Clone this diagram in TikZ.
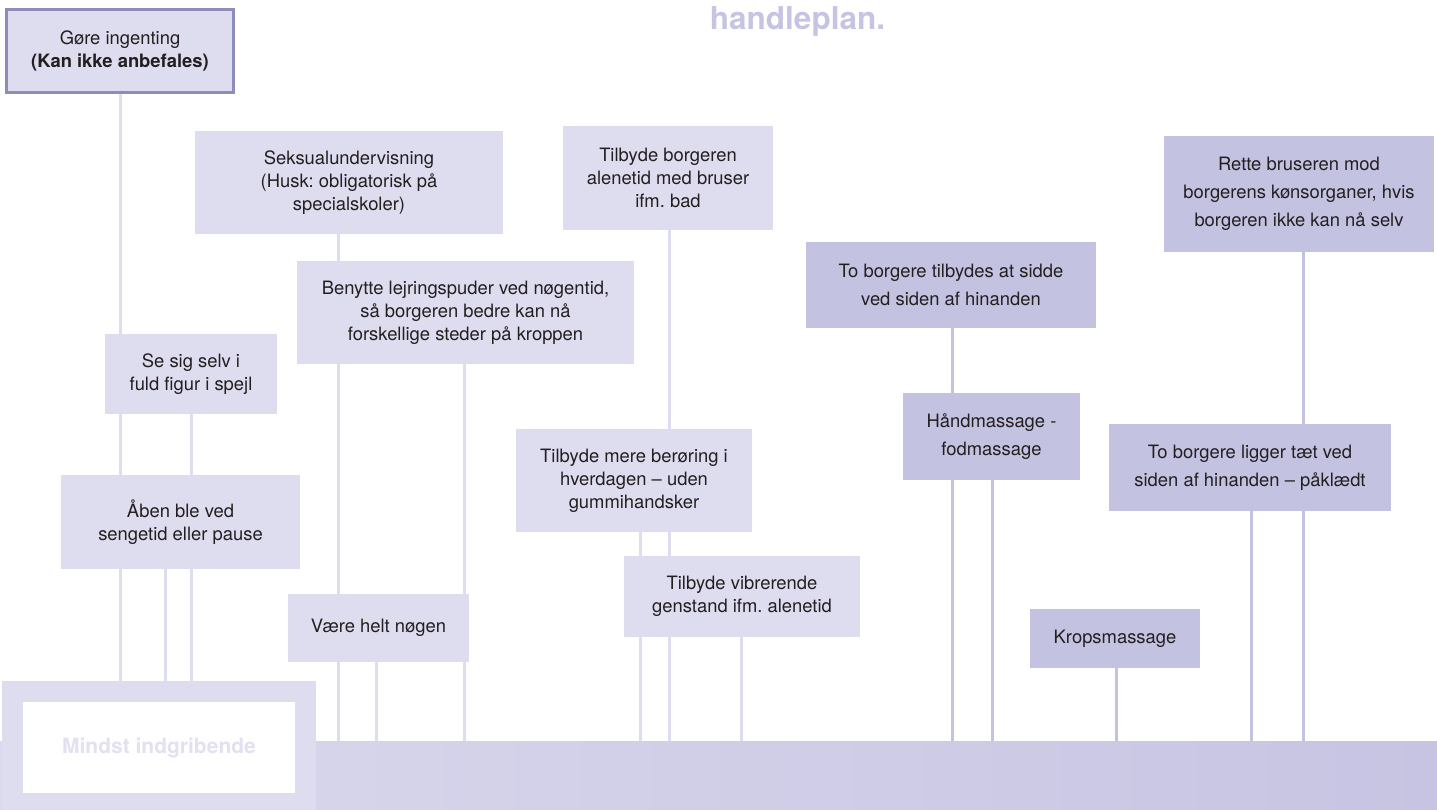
\documentclass[tikz,border=0pt]{standalone}
\usepackage{fontspec}
\setmainfont{TeX Gyre Heros}
\frenchspacing
\usetikzlibrary{backgrounds}

\definecolor{lys}{HTML}{DEDCEF}
\definecolor{mork}{HTML}{C4C2E1}
\definecolor{kant}{HTML}{8E8CB9}
\definecolor{tekst}{HTML}{231F20}
\definecolor{titel}{HTML}{C6C4E2}
\definecolor{bleg}{HTML}{E2E0F1}
\definecolor{barv}{HTML}{DBD9ED}
\definecolor{barh}{HTML}{C6C4E2}

\tikzset{
	tiltag/.style={rectangle, fill=lys, text=tekst, align=center, inner sep=0pt, outer sep=0pt,
		font=\fontsize{18.4}{22.8}\selectfont},
	tiltagm/.style={tiltag, fill=mork, font=\fontsize{18.4}{28}\selectfont},
	forb/.style={draw=lys, line width=3pt},
	forbm/.style={draw=mork, line width=3pt}
}

\begin{document}
\begin{tikzpicture}[x=1pt, y=-1pt]
		\useasboundingbox (0,0) rectangle (1437,809);
		\node[anchor=base, text=titel, font=\fontsize{31.5}{36}\selectfont\bfseries] (titel) at (797.5,29) {handleplan.};

		\node[tiltag, draw=kant, line width=3pt, minimum width=227pt, minimum height=83pt] (goere) at (120,51)
			{Gøre ingenting\\\textbf{(Kan ikke anbefales)}};
		\node[tiltag, minimum width=308pt, minimum height=103pt] (seks) at (349,182.5)
			{Seksualundervisning\\(Husk: obligatorisk på\\specialskoler)};
		\node[tiltag, minimum width=210pt, minimum height=104pt] (alene) at (668,178)
			{Tilbyde borgeren\\alenetid med bruser\\ifm. bad};
		\node[tiltagm, minimum width=270pt, minimum height=116pt] (rette) at (1299,194)
			{Rette bruseren mod\\borgerens kønsorganer, hvis\\borgeren ikke kan nå selv};
		\node[tiltagm, minimum width=290pt, minimum height=86pt] (sidde) at (951,285)
			{To borgere tilbydes at sidde\\ved siden af hinanden};
		\node[tiltag, minimum width=337pt, minimum height=103pt] (lejring) at (465.5,312.5)
			{Benytte lejringspuder ved nøgentid,\\så borgeren bedre kan nå\\forskellige steder på kroppen};
		\node[tiltag, minimum width=172pt, minimum height=80pt] (spejl) at (191,374)
			{Se sig selv i\\fuld figur i spejl};
		\node[tiltagm, minimum width=177pt, minimum height=87pt] (haand) at (991.5,436.5)
			{Håndmassage -\\fodmassage};
		\node[tiltagm, minimum width=282pt, minimum height=87pt] (ligger) at (1250,467.5)
			{To borgere ligger tæt ved\\siden af hinanden – påklædt};
		\node[tiltag, minimum width=236pt, minimum height=103pt] (beroering) at (634,480.5)
			{Tilbyde mere berøring i\\hverdagen – uden\\gummihandsker};
		\node[tiltag, minimum width=239pt, minimum height=94pt] (ble) at (180.5,522)
			{Åben ble ved\\sengetid eller pause};
		\node[tiltag, minimum width=236pt, minimum height=81pt] (vibr) at (742,596.5)
			{Tilbyde vibrerende\\genstand ifm. alenetid};
		\node[tiltag, minimum width=181pt, minimum height=68pt] (noegen) at (378.5,628)
			{Være helt nøgen};
		\node[tiltagm, minimum width=170pt, minimum height=59pt] (krop) at (1115,638.5)
			{Kropsmassage};

		\node[rectangle, inner sep=0pt, outer sep=0pt, minimum width=1437pt, minimum height=68pt,
			left color=barv, right color=barh] (bund) at (718.5,775) {};
		\node[rectangle, fill=white, draw=lys, line width=21pt, outer sep=0pt, inner sep=0pt,
			minimum width=293pt, minimum height=112pt, text=bleg,
			font=\fontsize{21}{25}\selectfont\bfseries] (mindst) at (159,747.5) {Mindst indgribende};

		\begin{scope}[on background layer]
			\draw[forb] (goere.south) -- (goere.south |- mindst.north);
			\draw[forb] (spejl.south) -- (spejl.south |- mindst.north);
			\draw[forb] ([xshift=-15.5pt]ble.south) -- ([xshift=-15.5pt]ble.south |- mindst.north);
			\draw[forb] ([xshift=-11pt]seks.south) -- ([xshift=-11pt]seks.south |- bund.north);
			\draw[forb] ([xshift=-2.5pt]noegen.south) -- ([xshift=-2.5pt]noegen.south |- bund.north);
			\draw[forb] ([xshift=-1.5pt]lejring.south) -- ([xshift=-1.5pt]lejring.south |- bund.north);
			\draw[forb] ([xshift=1pt]alene.south) -- ([xshift=1pt]alene.south |- bund.north);
			\draw[forb] ([xshift=6pt]beroering.south) -- ([xshift=6pt]beroering.south |- bund.north);
			\draw[forb] ([xshift=-1pt]vibr.south) -- ([xshift=-1pt]vibr.south |- bund.north);
			\draw[forbm] ([xshift=1pt]sidde.south) -- ([xshift=1pt]sidde.south |- bund.north);
			\draw[forbm] ([xshift=0.5pt]haand.south) -- ([xshift=0.5pt]haand.south |- bund.north);
			\draw[forbm] ([xshift=1pt]krop.south) -- ([xshift=1pt]krop.south |- bund.north);
			\draw[forbm] ([xshift=1pt]ligger.south) -- ([xshift=1pt]ligger.south |- bund.north);
			\draw[forbm] ([xshift=4pt]rette.south) -- ([xshift=4pt]rette.south |- bund.north);
		\end{scope}
	\end{tikzpicture}
\end{document}
